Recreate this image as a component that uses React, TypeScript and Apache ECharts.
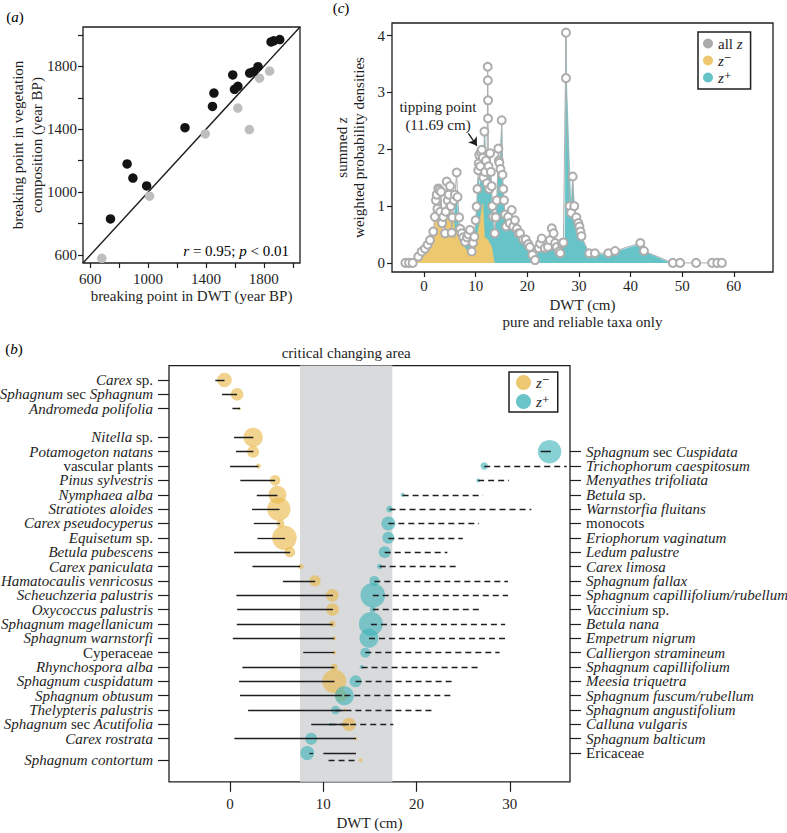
import React, { useEffect, useRef } from 'react';
import * as echarts from 'echarts';

const SERIF = "'Liberation Serif', 'Times New Roman', 'DejaVu Serif', serif";
const INK = '#1e1e1e';

// ---------------- panel (a) ----------------
const aDarkX = [740, 855, 895, 990, 1255, 1445, 1455, 1585, 1597, 1621, 1702, 1729, 1760, 1850, 1868, 1910];
const aDarkY = [830, 1180, 1090, 1040, 1410, 1545, 1630, 1745, 1654, 1673, 1757, 1766, 1798, 1955, 1962, 1970];
const aLightX = [680, 1010, 1395, 1620, 1700, 1770, 1840];
const aLightY = [580, 975, 1370, 1535, 1398, 1725, 1770];
const aRange = [550, 2050];
const aTicks = [600, 800, 1000, 1200, 1400, 1600, 1800, 2000];
const aTickLabels = [600, 1000, 1400, 1800];
const aR = '0.95';
const aP = '0.01';

// ---------------- panel (c) ----------------
const cAllZ = [
  [-3.6, 0], [-2.9, 0], [-2.2, 0], [-1.1, 0.11], [-0.45, 0.2], [0.2, 0.25], [0.7, 0.32], [1.16, 0.4], [1.8, 0.55],
  [2.1, 0.81], [2.3, 1.1], [2.46, 1.2], [2.6, 0.95], [2.77, 1.31], [3.0, 1.28], [3.15, 0.9], [3.3, 1.25], [3.5, 0.7],
  [3.74, 0.81], [4.07, 0.52], [4.2, 0.9], [4.4, 1.43], [4.6, 1.1], [4.8, 1.2], [5.04, 1.35], [5.2, 1.0], [5.37, 0.53],
  [5.5, 0.8], [5.8, 1.1], [6.0, 1.2], [6.33, 1.59], [6.5, 1.16], [6.8, 0.8], [7.0, 0.6], [7.3, 0.52], [7.6, 0.45],
  [7.95, 0.37], [8.3, 0.45], [8.6, 0.5], [8.9, 0.58], [9.24, 0.2], [9.5, 0.35], [9.75, 0.46], [10.0, 0.75], [10.2, 0.99],
  [10.35, 1.3], [10.5, 1.63], [10.6, 1.75], [10.7, 1.9], [10.9, 1.7], [11.0, 1.95], [11.2, 1.99], [11.4, 1.85],
  [11.5, 1.5], [11.7, 2.31], [11.85, 1.6], [12.0, 1.8], [12.2, 1.4], [12.34, 3.45], [12.37, 3.21], [12.4, 2.86],
  [12.4, 2.54], [12.5, 1.7], [12.65, 1.3], [12.8, 1.93], [12.95, 1.6], [13.1, 1.35], [13.25, 1.0], [13.4, 0.81],
  [13.7, 0.52], [13.9, 0.8], [14.1, 1.1], [14.4, 2.01], [14.5, 1.8], [14.6, 1.76], [14.8, 1.65], [15.05, 2.51],
  [15.2, 1.55], [15.35, 1.3], [15.5, 1.1], [15.7, 0.85], [15.9, 0.64], [16.3, 0.81], [16.6, 0.7], [17.0, 0.93],
  [17.3, 0.64], [17.6, 0.75], [18.0, 0.6], [18.3, 0.52], [18.6, 0.52], [19.2, 0.41], [19.7, 0.41], [20.2, 0.33],
  [20.5, 0.28], [21.0, 0.14], [21.5, 0.05], [22.2, 0.26], [22.5, 0.34], [22.8, 0.43], [23.4, 0.26], [24.0, 0.28],
  [24.4, 0.4], [24.75, 0.61], [25.1, 0.52], [25.4, 0.35], [25.7, 0.28], [26.1, 0.2], [26.4, 0.17], [26.7, 0.34],
  [27.0, 0.36], [27.5, 4.05], [27.5, 3.25], [28.2, 1.0], [28.5, 0.88], [28.8, 1.52], [29.1, 1.0], [29.5, 0.8],
  [29.9, 0.7], [30.1, 0.64], [30.3, 0.55], [30.5, 0.47], [32.0, 0.17], [33.1, 0.17], [35.7, 0.17], [37.0, 0.21],
  [41.9, 0.35], [42.6, 0.21], [48.2, 0], [49.6, 0], [52.7, 0], [55.8, 0], [56.8, 0], [57.7, 0],
];
const cZMinus = [
  [-1.75, 0], [-0.8, 0.15], [0.2, 0.25], [1.16, 0.37], [1.8, 0.5], [2.2, 0.8], [2.46, 0.99], [2.77, 1.28], [3.0, 0.8],
  [3.3, 1.1], [3.74, 0.52], [4.1, 0.7], [4.4, 1.1], [4.85, 1.39], [5.1, 1.0], [5.37, 0.75], [5.7, 0.9], [6.0, 0.4],
  [6.4, 0.6], [7.0, 0.37], [7.6, 0.3], [8.3, 0.22], [9.6, 0.22], [10.2, 0.4], [10.85, 0.75], [11.4, 1.04],
  [11.7, 0.46], [12.4, 0.4], [13.1, 0.28], [13.6, 0],
];
const cZPlus = [
  [4.6, 0], [5.1, 1.2], [5.5, 0.5], [6.3, 1.2], [6.7, 0.6], [7.5, 0.4], [8.3, 0.3], [9.0, 0.35], [9.6, 0.25],
  [10.2, 0.9], [10.5, 1.5], [10.8, 1.3], [11.2, 1.9], [11.5, 1.6], [11.8, 2.25], [12.1, 1.2], [12.4, 1.5],
  [12.8, 1.8], [13.1, 1.1], [13.4, 0.7], [13.7, 0.5], [14.1, 1.0], [14.4, 1.9], [14.6, 1.6], [15.05, 2.45],
  [15.3, 1.3], [15.6, 0.9], [15.9, 0.6], [16.3, 0.75], [17.0, 0.9], [17.3, 0.6], [17.6, 0.7], [18.3, 0.5],
  [19.2, 0.38], [19.7, 0.38], [20.5, 0.25], [21.0, 0.12], [21.5, 0.03], [22.2, 0.23], [22.8, 0.4], [23.4, 0.23],
  [24.0, 0.25], [24.75, 0.58], [25.1, 0.48], [25.7, 0.25], [26.4, 0.15], [26.9, 0.3], [27.3, 0.35], [27.5, 4.0],
  [27.6, 3.2], [28.5, 0.85], [28.8, 1.5], [29.1, 0.9], [29.9, 0.68], [30.5, 0.45], [32.0, 0.15], [33.1, 0.15],
  [35.7, 0.15], [37.0, 0.19], [41.9, 0.33], [42.6, 0.2], [47.7, 0],
];
const cXTicks = [0, 10, 20, 30, 40, 50, 60];
const cYTicks = [0, 1, 2, 3, 4];
const tippingPoint = 11.69;

// ---------------- panel (b) ----------------
const leftNames = ['Carex sp.', 'Sphagnum sec Sphagnum', 'Andromeda polifolia', 'Nitella sp.', 'Potamogeton natans',
  'vascular plants', 'Pinus sylvestris', 'Nymphaea alba', 'Stratiotes aloides', 'Carex pseudocyperus', 'Equisetum sp.',
  'Betula pubescens', 'Carex paniculata', 'Hamatocaulis venricosus', 'Scheuchzeria palustris', 'Oxycoccus palustris',
  'Sphagnum magellanicum', 'Sphagnum warnstorfi', 'Cyperaceae', 'Rhynchospora alba', 'Sphagnum cuspidatum',
  'Sphagnum obtusum', 'Thelypteris palustris', 'Sphagnum sec Acutifolia', 'Carex rostrata', 'Sphagnum contortum'];
const leftRows = [0, 1, 2, 4, 5, 6, 7, 8, 9, 10, 11, 12, 13, 14, 15, 16, 17, 18, 19, 20, 21, 22, 23, 24, 25, 26.5];
const zMinusX = [-0.6, 0.75, 1.0, 2.47, 2.47, 3.04, 4.83, 5.08, 5.23, 5.4, 5.83, 6.41, 7.59, 9.1, 10.96, 10.99, 10.96,
  11.17, 11.17, 11.17, 11.17, 11.9, 12.35, 12.75, 13.5, 14.0];
const zMinusW = [7.3, 6.3, 1.5, 9.7, 6, 2.5, 5.3, 9, 11.7, 4, 12.3, 5.3, 2.7, 5.7, 6.3, 6.3, 3.3, 2, 2, 3.5, 12, 6, 1.5,
  6.7, 1.5, 2];
const zMinusFrom = [-1.58, -0.86, 0.25, 0.43, 0.64, 0.0, 1.1, 2.86, 2.36, 2.54, 2.93, 0.43, 2.4, 5.66, 0.68, 0.76, 0.72,
  0.29, 7.84, 1.32, 0.97, 1.07, 1.93, 8.7, 0.46, 10.56];
const zMinusTo = [-0.6, 0.75, 1.07, 2.5, 2.5, 3.04, 4.83, 5.08, 5.3, 5.37, 5.9, 6.44, 7.52, 9.13, 11.03, 11.03, 11.0,
  11.17, 11.17, 11.17, 11.2, 12.0, 12.35, 12.75, 13.5, 13.78];
const dashedLeft = ['Sphagnum contortum'];

const rightNames = ['Sphagnum sec Cuspidata', 'Trichophorum caespitosum', 'Menyathes trifoliata', 'Betula sp.',
  'Warnstorfia fluitans', 'monocots', 'Eriophorum vaginatum', 'Ledum palustre', 'Carex limosa', 'Sphagnum fallax',
  'Sphagnum capillifolium/rubellum', 'Vaccinium sp.', 'Betula nana', 'Empetrum nigrum', 'Calliergon stramineum',
  'Sphagnum capillifolium', 'Meesia triquetra', 'Sphagnum fuscum/rubellum', 'Sphagnum angustifolium',
  'Calluna vulgaris', 'Sphagnum balticum', 'Ericaceae'];
const rightRows = [5, 6, 7, 8, 9, 10, 11, 12, 13, 14, 15, 16, 17, 18, 19, 20, 21, 22, 23, 24, 25, 26];
const zPlusX = [34.26, 27.25, 26.6, 18.5, 17.1, 16.97, 16.97, 16.58, 16.04, 15.47, 15.3, 15.3, 15.1, 14.9, 14.5, 14.1,
  13.46, 12.25, 11.3, 10.74, 8.7, 8.27];
const zPlusW = [11.7, 3.7, 2, 2, 3.3, 7, 6, 6, 2.7, 5, 12.3, 3, 12, 9.5, 5, 2, 6, 9.5, 4.3, 1.5, 6, 7];
const zPlusFrom = [33.3, 27.25, 26.6, 18.5, 17.1, 16.97, 16.97, 16.58, 16.04, 15.47, 15.3, 15.3, 15.1, 14.9, 14.5, 14.1,
  13.46, 12.25, 11.3, 10.74, 8.7, 8.5];
const zPlusTo = [34.4, 36.1, 29.9, 27.1, 32.3, 26.7, 24.95, 23.3, 24.2, 29.8, 29.8, 26.96, 29.5, 29.65, 28.9, 26.7,
  24.17, 23.8, 22.0, 17.5, 8.7, 8.9];
const solidRight = ['Sphagnum sec Cuspidata', 'Ericaceae'];
const extraSolidRows = [26];
const extraSolidFrom = [10.0];
const extraSolidTo = [13.5];
const criticalArea = [7.5, 17.4];
const bXTicks = [0, 10, 20, 30];
const bRowRange = [-1, 28];

// ---------------- helpers ----------------
const NON_ITALIC = new Set(['sp.', 'sec', 'vascular', 'plants', 'Cyperaceae', 'monocots', 'Ericaceae']);
const toRich = (name: string) =>
  name.split(' ').map((w, k, arr) => `{${NON_ITALIC.has(w) ? 'n' : 'i'}|${w}${k < arr.length - 1 ? ' ' : ''}}`).join('');

const mkRich = (size: number, lh?: number) => ({
  i: { fontFamily: SERIF, fontSize: size, fontStyle: 'italic', color: INK, lineHeight: lh },
  n: { fontFamily: SERIF, fontSize: size, fontStyle: 'normal', color: INK, lineHeight: lh },
});
const txt = (size = 15) => ({ color: INK, fontFamily: SERIF, fontSize: size });
const tickStyle = { color: INK, width: 1.2 };
const plain = (v: number) => String(v);

function buildOption() {
  const YELLOW_C = '#EEC86F';
  const TEAL_C = '#66C4C8';
  const YELLOW_B = 'rgba(232,185,74,0.78)';
  const TEAL_B = 'rgba(62,180,186,0.78)';

  const nCat = Math.round((bRowRange[1] - bRowRange[0]) * 2) + 1;
  const leftCats = Array.from({ length: nCat }, (_, i) => `_${i}`);
  const rightCats = Array.from({ length: nCat }, (_, i) => `_${i}`);
  leftNames.forEach((n, k) => { leftCats[Math.round((leftRows[k] - bRowRange[0]) * 2)] = n; });
  rightNames.forEach((n, k) => { rightCats[Math.round((rightRows[k] - bRowRange[0]) * 2)] = n; });
  const isName = (_: number, v: string) => !String(v).startsWith('_');

  const solid: any[] = [];
  const dashed: any[] = [];
  leftNames.forEach((n, k) => {
    const seg = { coords: [[zMinusFrom[k], leftRows[k]], [zMinusTo[k], leftRows[k]]] };
    (dashedLeft.includes(n) ? dashed : solid).push(seg);
  });
  rightNames.forEach((n, k) => {
    if (zPlusTo[k] - zPlusFrom[k] <= 0) return;
    const seg = { coords: [[zPlusFrom[k], rightRows[k]], [zPlusTo[k], rightRows[k]]] };
    (solidRight.includes(n) ? solid : dashed).push(seg);
  });
  extraSolidRows.forEach((r, k) => solid.push({ coords: [[extraSolidFrom[k], r], [extraSolidTo[k], r]] }));

  const gridBase = { show: true, borderColor: INK, borderWidth: 1.3, backgroundColor: 'transparent', containLabel: false, outerBoundsMode: 'none' };

  const catAxis = (data: string[], position: string) => ({
    type: 'category', gridIndex: 2, position, data, inverse: true, boundaryGap: false,
    axisLine: { show: false, onZero: false },
    axisTick: { show: true, interval: isName, length: 11, lineStyle: tickStyle },
    axisLabel: {
      interval: 0, margin: 16, hideOverlap: false,
      formatter: (v: string) => (String(v).startsWith('_') ? '' : toRich(v)), rich: mkRich(15, 14),
      ...txt(), lineHeight: 14,
    },
    splitLine: { show: false },
  });

  const legendFmt = (name: string) => (name === 'all z' ? '{n|all }{i|z}' : `{i|z}{n|${name.slice(1)}}`);

  return {
    animation: false,
    backgroundColor: '#fff',
    grid: [
      { ...gridBase, left: 83, top: 27, width: 217, height: 236 },
      { ...gridBase, left: 392, top: 23, width: 381, height: 249 },
      { ...gridBase, left: 169, top: 365.6, width: 401, height: 416.2 },
    ],
    legend: [
      {
        orient: 'vertical', left: 698, top: 32, padding: [4, 8, 4, 5], itemGap: 2, itemWidth: 10, itemHeight: 10,
        borderColor: INK, borderWidth: 1.5, selectedMode: false, backgroundColor: '#fff',
        data: [
          { name: 'all z', icon: 'circle', itemStyle: { color: '#ABABAB', borderWidth: 0 } },
          { name: 'z⁻', icon: 'circle', itemStyle: { color: YELLOW_C, borderWidth: 0 } },
          { name: 'z⁺', icon: 'circle', itemStyle: { color: TEAL_C, borderWidth: 0 } },
        ],
        formatter: legendFmt, textStyle: { ...txt(), lineHeight: 15, rich: mkRich(15, 15) },
      },
      {
        orient: 'vertical', left: 509, top: 372, padding: [3, 8, 3, 7], itemGap: 4, itemWidth: 15, itemHeight: 15,
        borderColor: INK, borderWidth: 1.5, selectedMode: false, backgroundColor: '#fff',
        data: [
          { name: 'z⁻', icon: 'circle', itemStyle: { color: YELLOW_B, borderWidth: 0 } },
          { name: 'z⁺', icon: 'circle', itemStyle: { color: TEAL_B, borderWidth: 0 } },
        ],
        formatter: legendFmt, textStyle: { ...txt(), lineHeight: 15, rich: mkRich(15, 15) },
      },
    ],
    xAxis: [
      {
        type: 'value', gridIndex: 0, min: aRange[0], max: aRange[1],
        axisLine: { show: false, onZero: false }, splitLine: { show: false },
        axisTick: { show: true, customValues: aTicks, length: 5, lineStyle: tickStyle },
        axisLabel: { customValues: aTickLabels, margin: 8, formatter: plain, ...txt() },
        name: 'breaking point in DWT (year BP)', nameLocation: 'middle', nameGap: 25, nameMoveOverlap: false,
        nameTextStyle: txt(),
      },
      {
        type: 'value', gridIndex: 1, min: -6.2, max: 67.6,
        axisLine: { show: false, onZero: false }, splitLine: { show: false },
        axisTick: { show: true, customValues: cXTicks, length: 5, lineStyle: tickStyle },
        axisLabel: { customValues: cXTicks, margin: 6, formatter: plain, ...txt() },
        name: 'DWT (cm)\npure and reliable taxa only', nameLocation: 'middle', nameGap: 24, nameMoveOverlap: false,
        nameTextStyle: { ...txt(), lineHeight: 17 },
      },
      {
        type: 'value', gridIndex: 2, min: -6.55, max: 36.45,
        axisLine: { show: false, onZero: false }, splitLine: { show: false },
        axisTick: { show: true, customValues: bXTicks, length: 10, lineStyle: tickStyle },
        axisLabel: { customValues: bXTicks, margin: 15, formatter: plain, ...txt() },
        name: 'DWT (cm)', nameLocation: 'middle', nameGap: 34, nameMoveOverlap: false, nameTextStyle: txt(),
      },
    ],
    yAxis: [
      {
        type: 'value', gridIndex: 0, min: aRange[0], max: aRange[1],
        axisLine: { show: false, onZero: false }, splitLine: { show: false },
        axisTick: { show: true, customValues: aTicks, length: 5, lineStyle: tickStyle },
        axisLabel: { customValues: aTickLabels, margin: 6, formatter: plain, ...txt() },
        name: 'breaking point in vegetation\ncomposition (year BP)', nameLocation: 'middle', nameGap: 37,
        nameMoveOverlap: false, nameTextStyle: { ...txt(), lineHeight: 19 },
      },
      {
        type: 'value', gridIndex: 1, min: -0.16, max: 4.22,
        axisLine: { show: false, onZero: false }, splitLine: { show: false },
        axisTick: { show: true, customValues: cYTicks, length: 5, lineStyle: tickStyle },
        axisLabel: { customValues: cYTicks, margin: 7, formatter: plain, ...txt() },
        name: '{n|summed }{i|z}\n{n|weighted probability densities}', nameLocation: 'middle', nameGap: 25,
        nameMoveOverlap: false, nameTextStyle: { ...txt(), lineHeight: 17, rich: mkRich(15, 17) },
      },
      {
        type: 'value', gridIndex: 2, min: bRowRange[0], max: bRowRange[1], inverse: true, show: false,
        axisLine: { onZero: false }, splitLine: { show: false },
      },
      catAxis(leftCats, 'left'),
      catAxis(rightCats, 'right'),
    ],
    series: [
      // ---- (a)
      {
        type: 'line', xAxisIndex: 0, yAxisIndex: 0, data: [[aRange[0], aRange[0]], [aRange[1], aRange[1]]],
        symbol: 'none', lineStyle: { color: INK, width: 1.4 }, z: 2, silent: true,
      },
      {
        type: 'scatter', xAxisIndex: 0, yAxisIndex: 0, data: aLightX.map((x, i) => [x, aLightY[i]]),
        symbolSize: 9.5, itemStyle: { color: '#BEBEBE', opacity: 1 }, z: 3,
      },
      {
        type: 'scatter', xAxisIndex: 0, yAxisIndex: 0, data: aDarkX.map((x, i) => [x, aDarkY[i]]),
        symbolSize: 9.5, itemStyle: { color: '#141414', opacity: 1 }, z: 4,
      },
      // ---- (c)
      {
        name: 'z⁺', type: 'line', xAxisIndex: 1, yAxisIndex: 1, data: cZPlus, symbol: 'none',
        lineStyle: { width: 0.6, color: TEAL_C }, itemStyle: { color: TEAL_C },
        areaStyle: { color: TEAL_C, opacity: 1 }, z: 2, silent: true,
      },
      {
        name: 'z⁻', type: 'line', xAxisIndex: 1, yAxisIndex: 1, data: cZMinus, symbol: 'none',
        lineStyle: { width: 0.6, color: YELLOW_C }, itemStyle: { color: YELLOW_C },
        areaStyle: { color: YELLOW_C, opacity: 1 }, z: 3, silent: true,
      },
      {
        name: 'all z', type: 'line', xAxisIndex: 1, yAxisIndex: 1, data: cAllZ, symbol: 'emptyCircle',
        symbolSize: 8, showAllSymbol: true, itemStyle: { color: '#ADADAD', borderWidth: 1 },
        lineStyle: { color: '#ADADAD', width: 1 }, z: 4, silent: true,
        markLine: {
          silent: true, symbol: ['none', 'arrow'], symbolSize: 8, label: { show: false },
          lineStyle: { color: INK, width: 1.3, type: 'solid' },
          data: [[{ coord: [8.6, 2.28] }, { coord: [10.25, 2.06] }]],
        },
      },
      // ---- (b)
      {
        type: 'scatter', xAxisIndex: 2, yAxisIndex: 2, data: [[criticalArea[0], bRowRange[0]]], symbolSize: 0,
        z: 1, silent: true,
        markArea: {
          silent: true, itemStyle: { color: '#D9DADB' },
          label: { show: true, position: 'top', distance: 5, formatter: 'critical changing area', ...txt() },
          data: [[{ xAxis: criticalArea[0] }, { xAxis: criticalArea[1] }]],
        },
      },
      {
        name: 'z⁻', type: 'scatter', xAxisIndex: 2, yAxisIndex: 2,
        data: zMinusX.map((x, k) => [x, leftRows[k], zMinusW[k]]),
        symbolSize: (v: number[]) => v[2] * 2, itemStyle: { color: YELLOW_B }, z: 3, silent: true,
      },
      {
        name: 'z⁺', type: 'scatter', xAxisIndex: 2, yAxisIndex: 2,
        data: zPlusX.map((x, k) => [x, rightRows[k], zPlusW[k]]),
        symbolSize: (v: number[]) => v[2] * 2, itemStyle: { color: TEAL_B }, z: 3, silent: true,
      },
      {
        type: 'lines', coordinateSystem: 'cartesian2d', xAxisIndex: 2, yAxisIndex: 2, data: solid,
        lineStyle: { color: INK, width: 1.3, type: 'solid', opacity: 1 }, z: 5, silent: true,
      },
      {
        type: 'lines', coordinateSystem: 'cartesian2d', xAxisIndex: 2, yAxisIndex: 2, data: dashed,
        lineStyle: { color: INK, width: 1.3, type: [6, 4], opacity: 1 }, z: 5, silent: true,
      },
    ],
    graphic: [
      { type: 'text', x: 15, y: 17, style: { text: '{n|(}{i|a}{n|)}', rich: mkRich(15), align: 'center', verticalAlign: 'middle' } },
      { type: 'text', x: 341, y: 8, style: { text: '{n|(}{i|c}{n|)}', rich: mkRich(15), align: 'center', verticalAlign: 'middle' } },
      { type: 'text', x: 14, y: 349, style: { text: '{n|(}{i|b}{n|)}', rich: mkRich(15), align: 'center', verticalAlign: 'middle' } },
      {
        type: 'text', x: 289, y: 251,
        style: { text: `{i|r}{n| = ${aR}; }{i|p}{n| < ${aP}}`, rich: mkRich(15), align: 'right', verticalAlign: 'middle' },
      },
      {
        type: 'text', x: 438, y: 116,
        style: { text: `tipping point\n(${tippingPoint} cm)`, fill: INK, font: `15px ${SERIF}`, lineHeight: 18, align: 'center', verticalAlign: 'middle' },
      },
    ],
  };
}

export default function App() {
  const ref = useRef<HTMLDivElement>(null);
  useEffect(() => {
    if (!ref.current) return;
    const chart = echarts.init(ref.current, null, { renderer: 'svg' });
    chart.setOption(buildOption() as any);
    return () => chart.dispose();
  }, []);
  return (
    <div
      ref={ref}
      style={{ position: 'fixed', left: 0, top: 0, width: 787, height: 833, background: '#fff' }}
    />
  );
}
